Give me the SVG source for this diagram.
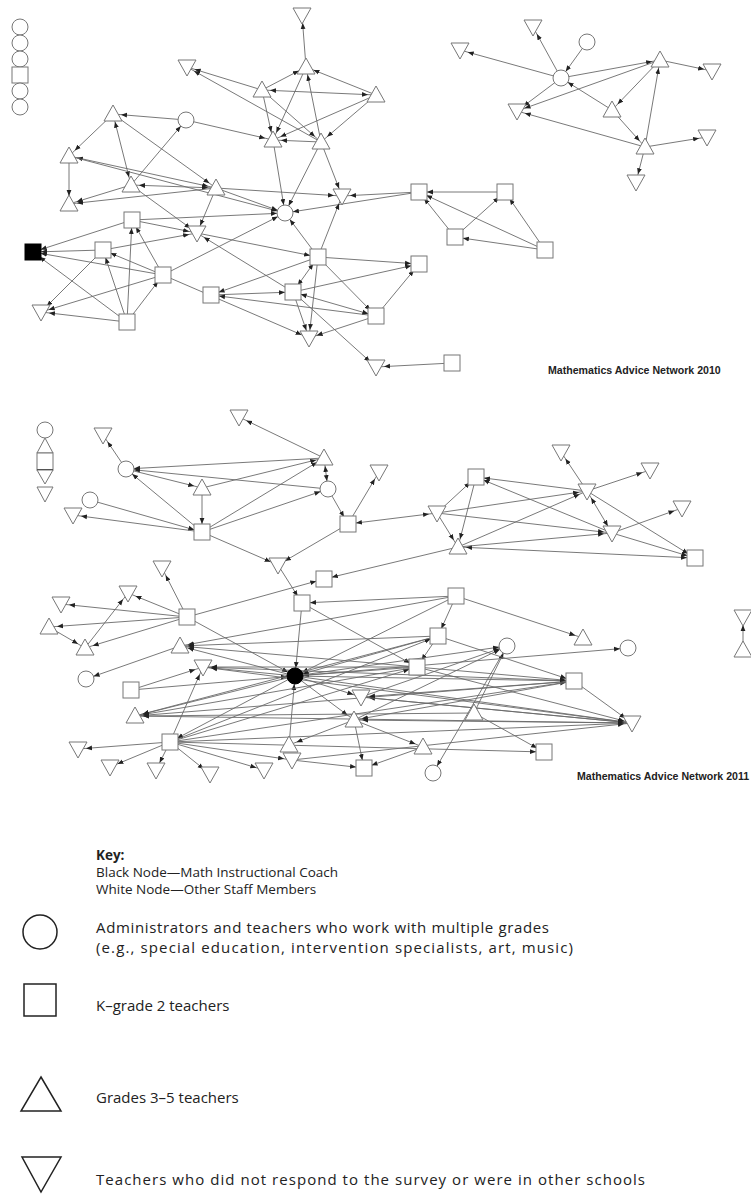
<svg xmlns="http://www.w3.org/2000/svg" width="751" height="1200" viewBox="0 0 751 1200">
<style>
.e{stroke:#6a6a6a;stroke-width:0.9;fill:none;marker-end:url(#a)}
.d{marker-start:url(#a)}
.n{fill:#fff;stroke:#777;stroke-width:1}
.b{fill:#000;stroke:#000;stroke-width:1}
.ttl{font-family:"Liberation Sans",Arial,sans-serif;font-weight:bold;font-size:10.6px;fill:#222}
.k{font-family:"Open Sans","Liberation Sans",sans-serif;font-size:13.5px;fill:#222}
.kd{font-family:"Open Sans","Liberation Sans",sans-serif;font-size:15px;fill:#222}
.kb{font-weight:bold}
.ks{fill:#fff;stroke:#222;stroke-width:1.5}
</style>
<defs>
<marker id="a" viewBox="0 0 20 6" refX="14" refY="3" markerWidth="20" markerHeight="6" markerUnits="userSpaceOnUse" orient="auto-start-reverse"><path d="M0,0.6 L6,3 L0,5.4z" fill="#222"/></marker>
<circle id="ci" r="8"/>
<rect id="sq" x="-8" y="-8" width="16" height="16"/>
<polygon id="ut" points="0,-9 9,7 -9,7"/>
<polygon id="dt" points="-9,-7 9,-7 0,9"/>
</defs>
<rect width="751" height="1200" fill="#fff"/>
<g id="connectors">
<line class="e" x1="321" y1="142" x2="187" y2="67"/>
<line class="e" x1="262" y1="90" x2="187" y2="67"/>
<line class="e" x1="186" y1="120" x2="113" y2="114"/>
<line class="e" x1="131" y1="185" x2="186" y2="120"/>
<line class="e" x1="186" y1="120" x2="273" y2="140"/>
<line class="e" x1="113" y1="114" x2="69" y2="156"/>
<line class="e d" x1="113" y1="114" x2="131" y2="185"/>
<line class="e" x1="113" y1="114" x2="216" y2="188"/>
<line class="e" x1="69" y1="156" x2="69" y2="204"/>
<line class="e d" x1="216" y1="188" x2="69" y2="156"/>
<line class="e" x1="69" y1="156" x2="285" y2="213"/>
<line class="e d" x1="131" y1="185" x2="216" y2="188"/>
<line class="e" x1="216" y1="188" x2="69" y2="204"/>
<line class="e" x1="131" y1="185" x2="69" y2="204"/>
<line class="e" x1="131" y1="185" x2="197" y2="233"/>
<line class="e" x1="216" y1="188" x2="197" y2="233"/>
<line class="e" x1="216" y1="188" x2="342" y2="196"/>
<line class="e" x1="216" y1="188" x2="285" y2="213"/>
<line class="e" x1="306" y1="67" x2="302" y2="15"/>
<line class="e" x1="262" y1="90" x2="306" y2="67"/>
<line class="e" x1="376" y1="95" x2="306" y2="67"/>
<line class="e d" x1="262" y1="90" x2="376" y2="95"/>
<line class="e" x1="306" y1="67" x2="273" y2="140"/>
<line class="e" x1="321" y1="142" x2="306" y2="67"/>
<line class="e" x1="262" y1="90" x2="273" y2="140"/>
<line class="e" x1="262" y1="90" x2="321" y2="142"/>
<line class="e" x1="376" y1="95" x2="273" y2="140"/>
<line class="e" x1="376" y1="95" x2="321" y2="142"/>
<line class="e" x1="321" y1="142" x2="273" y2="140"/>
<line class="e" x1="273" y1="140" x2="285" y2="213"/>
<line class="e" x1="321" y1="142" x2="285" y2="213"/>
<line class="e" x1="321" y1="142" x2="342" y2="196"/>
<line class="e" x1="419" y1="192" x2="342" y2="196"/>
<line class="e" x1="419" y1="192" x2="285" y2="213"/>
<line class="e" x1="318" y1="257" x2="342" y2="196"/>
<line class="e" x1="318" y1="257" x2="285" y2="213"/>
<line class="e" x1="132" y1="220" x2="33" y2="252"/>
<line class="e" x1="132" y1="220" x2="197" y2="233"/>
<line class="e" x1="132" y1="220" x2="285" y2="213"/>
<line class="e" x1="103" y1="250" x2="33" y2="252"/>
<line class="e" x1="103" y1="250" x2="197" y2="233"/>
<line class="e" x1="103" y1="250" x2="41" y2="312"/>
<line class="e" x1="163" y1="275" x2="33" y2="252"/>
<line class="e" x1="163" y1="275" x2="103" y2="250"/>
<line class="e" x1="163" y1="275" x2="132" y2="220"/>
<line class="e" x1="163" y1="275" x2="41" y2="312"/>
<line class="e" x1="163" y1="275" x2="285" y2="213"/>
<line class="e" x1="127" y1="322" x2="41" y2="312"/>
<line class="e" x1="127" y1="322" x2="103" y2="250"/>
<line class="e" x1="127" y1="322" x2="132" y2="220"/>
<line class="e" x1="127" y1="322" x2="163" y2="275"/>
<line class="e" x1="127" y1="322" x2="33" y2="252"/>
<line class="e" x1="197" y1="233" x2="318" y2="257"/>
<line class="e" x1="293" y1="292" x2="197" y2="233"/>
<line class="e" x1="318" y1="257" x2="211" y2="295"/>
<line class="e" x1="211" y1="295" x2="293" y2="292"/>
<line class="e" x1="376" y1="316" x2="211" y2="295"/>
<line class="e" x1="163" y1="275" x2="309" y2="338"/>
<line class="e" x1="318" y1="257" x2="419" y2="264"/>
<line class="e" x1="293" y1="292" x2="419" y2="264"/>
<line class="e d" x1="376" y1="316" x2="293" y2="292"/>
<line class="e" x1="376" y1="316" x2="419" y2="264"/>
<line class="e" x1="318" y1="257" x2="376" y2="316"/>
<line class="e" x1="318" y1="257" x2="309" y2="338"/>
<line class="e" x1="293" y1="292" x2="309" y2="338"/>
<line class="e" x1="376" y1="316" x2="309" y2="338"/>
<line class="e d" x1="318" y1="257" x2="293" y2="292"/>
<line class="e" x1="293" y1="292" x2="376" y2="367"/>
<line class="e" x1="452" y1="363" x2="376" y2="367"/>
<line class="e" x1="505" y1="192" x2="419" y2="192"/>
<line class="e" x1="455" y1="237" x2="419" y2="192"/>
<line class="e" x1="545" y1="250" x2="419" y2="192"/>
<line class="e" x1="455" y1="237" x2="505" y2="192"/>
<line class="e" x1="545" y1="250" x2="505" y2="192"/>
<line class="e" x1="545" y1="250" x2="455" y2="237"/>
<line class="e" x1="561" y1="78" x2="460" y2="50"/>
<line class="e" x1="561" y1="78" x2="533" y2="27"/>
<line class="e" x1="587" y1="42" x2="561" y2="78"/>
<line class="e" x1="561" y1="78" x2="660" y2="60"/>
<line class="e" x1="561" y1="78" x2="517" y2="111"/>
<line class="e" x1="660" y1="60" x2="517" y2="111"/>
<line class="e" x1="612" y1="110" x2="561" y2="78"/>
<line class="e" x1="660" y1="60" x2="612" y2="110"/>
<line class="e" x1="612" y1="110" x2="645" y2="147"/>
<line class="e" x1="645" y1="147" x2="660" y2="60"/>
<line class="e" x1="660" y1="60" x2="712" y2="71"/>
<line class="e" x1="645" y1="147" x2="517" y2="111"/>
<line class="e" x1="645" y1="147" x2="707" y2="137"/>
<line class="e" x1="645" y1="147" x2="636" y2="182"/>
<line class="e" x1="126" y1="469" x2="103" y2="435"/>
<line class="e" x1="202" y1="532" x2="126" y2="469"/>
<line class="e" x1="324" y1="458" x2="126" y2="469"/>
<line class="e" x1="328" y1="489" x2="126" y2="469"/>
<line class="e" x1="126" y1="469" x2="202" y2="488"/>
<line class="e" x1="90" y1="500" x2="202" y2="532"/>
<line class="e" x1="202" y1="532" x2="73" y2="515"/>
<line class="e" x1="202" y1="488" x2="202" y2="532"/>
<line class="e" x1="202" y1="532" x2="324" y2="458"/>
<line class="e" x1="202" y1="532" x2="328" y2="489"/>
<line class="e" x1="202" y1="488" x2="324" y2="458"/>
<line class="e" x1="202" y1="532" x2="278" y2="565"/>
<line class="e" x1="324" y1="458" x2="239" y2="417"/>
<line class="e d" x1="324" y1="458" x2="328" y2="489"/>
<line class="e" x1="328" y1="489" x2="348" y2="524"/>
<line class="e" x1="348" y1="524" x2="379" y2="472"/>
<line class="e" x1="348" y1="524" x2="278" y2="565"/>
<line class="e d" x1="348" y1="524" x2="437" y2="513"/>
<line class="e" x1="278" y1="565" x2="302" y2="603"/>
<line class="e" x1="458" y1="547" x2="324" y2="579"/>
<line class="e" x1="187" y1="617" x2="324" y2="579"/>
<line class="e" x1="437" y1="513" x2="476" y2="477"/>
<line class="e" x1="476" y1="477" x2="458" y2="547"/>
<line class="e" x1="437" y1="513" x2="458" y2="547"/>
<line class="e" x1="587" y1="491" x2="476" y2="477"/>
<line class="e" x1="612" y1="533" x2="476" y2="477"/>
<line class="e" x1="587" y1="491" x2="561" y2="452"/>
<line class="e" x1="587" y1="491" x2="650" y2="470"/>
<line class="e d" x1="587" y1="491" x2="612" y2="533"/>
<line class="e" x1="612" y1="533" x2="682" y2="508"/>
<line class="e" x1="587" y1="491" x2="695" y2="558"/>
<line class="e" x1="612" y1="533" x2="695" y2="558"/>
<line class="e d" x1="458" y1="547" x2="695" y2="558"/>
<line class="e" x1="437" y1="513" x2="587" y2="491"/>
<line class="e" x1="458" y1="547" x2="587" y2="491"/>
<line class="e" x1="437" y1="513" x2="612" y2="533"/>
<line class="e" x1="458" y1="547" x2="612" y2="533"/>
<line class="e" x1="187" y1="617" x2="128" y2="593"/>
<line class="e" x1="187" y1="617" x2="61" y2="604"/>
<line class="e" x1="187" y1="617" x2="49" y2="627"/>
<line class="e" x1="187" y1="617" x2="85" y2="648"/>
<line class="e" x1="85" y1="648" x2="128" y2="593"/>
<line class="e" x1="49" y1="627" x2="85" y2="648"/>
<line class="e" x1="187" y1="617" x2="162" y2="568"/>
<line class="e" x1="187" y1="617" x2="295" y2="676"/>
<line class="e" x1="180" y1="646" x2="86" y2="679"/>
<line class="e" x1="131" y1="690" x2="203" y2="667"/>
<line class="e" x1="170" y1="742" x2="203" y2="667"/>
<line class="e" x1="170" y1="742" x2="78" y2="749"/>
<line class="e" x1="170" y1="742" x2="110" y2="767"/>
<line class="e" x1="170" y1="742" x2="156" y2="770"/>
<line class="e" x1="170" y1="742" x2="210" y2="774"/>
<line class="e" x1="170" y1="742" x2="264" y2="770"/>
<line class="e" x1="456" y1="596" x2="302" y2="603"/>
<line class="e" x1="302" y1="603" x2="295" y2="676"/>
<line class="e" x1="302" y1="603" x2="417" y2="667"/>
<line class="e" x1="456" y1="596" x2="438" y2="636"/>
<line class="e" x1="456" y1="596" x2="295" y2="676"/>
<line class="e" x1="456" y1="596" x2="583" y2="638"/>
<line class="e" x1="438" y1="636" x2="417" y2="667"/>
<line class="e" x1="438" y1="636" x2="295" y2="676"/>
<line class="e" x1="438" y1="636" x2="180" y2="646"/>
<line class="e" x1="417" y1="667" x2="295" y2="676"/>
<line class="e" x1="354" y1="720" x2="364" y2="768"/>
<line class="e" x1="354" y1="720" x2="423" y2="747"/>
<line class="e" x1="423" y1="747" x2="364" y2="768"/>
<line class="e" x1="289" y1="745" x2="295" y2="676"/>
<line class="e" x1="292" y1="760" x2="364" y2="768"/>
<line class="e" x1="507" y1="646" x2="433" y2="773"/>
<line class="e" x1="474" y1="713" x2="507" y2="646"/>
<line class="e" x1="295" y1="676" x2="628" y2="648"/>
<line class="e" x1="574" y1="681" x2="632" y2="723"/>
<line class="e" x1="474" y1="713" x2="544" y2="752"/>
<line class="e" x1="295" y1="676" x2="180" y2="646"/>
<line class="e" x1="295" y1="676" x2="203" y2="667"/>
<line class="e" x1="295" y1="676" x2="135" y2="716"/>
<line class="e" x1="295" y1="676" x2="170" y2="742"/>
<line class="e" x1="295" y1="676" x2="361" y2="697"/>
<line class="e" x1="295" y1="676" x2="354" y2="720"/>
<line class="e" x1="295" y1="676" x2="507" y2="646"/>
<line class="e" x1="295" y1="676" x2="574" y2="681"/>
<line class="e" x1="295" y1="676" x2="632" y2="723"/>
<line class="e" x1="131" y1="690" x2="295" y2="676"/>
<line class="e" x1="170" y1="742" x2="438" y2="636"/>
<line class="e" x1="170" y1="742" x2="417" y2="667"/>
<line class="e" x1="170" y1="742" x2="574" y2="681"/>
<line class="e" x1="170" y1="742" x2="632" y2="723"/>
<line class="e" x1="170" y1="742" x2="544" y2="752"/>
<line class="e" x1="170" y1="742" x2="292" y2="760"/>
<line class="e" x1="438" y1="636" x2="135" y2="716"/>
<line class="e" x1="417" y1="667" x2="135" y2="716"/>
<line class="e" x1="574" y1="681" x2="135" y2="716"/>
<line class="e" x1="474" y1="713" x2="135" y2="716"/>
<line class="e" x1="632" y1="723" x2="135" y2="716"/>
<line class="e" x1="417" y1="667" x2="180" y2="646"/>
<line class="e" x1="456" y1="596" x2="180" y2="646"/>
<line class="e" x1="417" y1="667" x2="203" y2="667"/>
<line class="e" x1="574" y1="681" x2="203" y2="667"/>
<line class="e" x1="632" y1="723" x2="203" y2="667"/>
<line class="e" x1="574" y1="681" x2="361" y2="697"/>
<line class="e" x1="632" y1="723" x2="361" y2="697"/>
<line class="e" x1="632" y1="723" x2="354" y2="720"/>
<line class="e" x1="574" y1="681" x2="354" y2="720"/>
<line class="e" x1="354" y1="720" x2="289" y2="745"/>
<line class="e" x1="417" y1="667" x2="574" y2="681"/>
<line class="e" x1="438" y1="636" x2="574" y2="681"/>
<line class="e" x1="417" y1="667" x2="632" y2="723"/>
<line class="e" x1="361" y1="697" x2="632" y2="723"/>
<line class="e" x1="292" y1="760" x2="632" y2="723"/>
<line class="e" x1="361" y1="697" x2="507" y2="646"/>
<line class="e" x1="354" y1="720" x2="507" y2="646"/>
<line class="e" x1="743" y1="650" x2="743" y2="617"/>
</g>
<g id="isolates-2010">
<use href="#ci" class="n" x="20" y="27"/>
<use href="#ci" class="n" x="20" y="43"/>
<use href="#ci" class="n" x="20" y="59"/>
<use href="#sq" class="n" x="20" y="75"/>
<use href="#ci" class="n" x="20" y="91"/>
<use href="#ci" class="n" x="20" y="107"/>
</g>
<g id="nodes-2010">
<g id="t1"><use href="#dt" class="n" x="187" y="67"/></g>
<g id="t2"><use href="#ci" class="n" x="186" y="120"/></g>
<g id="t3"><use href="#ut" class="n" x="113" y="114"/></g>
<g id="t4"><use href="#ut" class="n" x="69" y="156"/></g>
<g id="t5"><use href="#ut" class="n" x="131" y="185"/></g>
<g id="t6"><use href="#ut" class="n" x="216" y="188"/></g>
<g id="t7"><use href="#ut" class="n" x="69" y="204"/></g>
<g id="t8"><use href="#dt" class="n" x="302" y="15"/></g>
<g id="t9"><use href="#ut" class="n" x="306" y="67"/></g>
<g id="t10"><use href="#ut" class="n" x="262" y="90"/></g>
<g id="t11"><use href="#ut" class="n" x="376" y="95"/></g>
<g id="t12"><use href="#ut" class="n" x="273" y="140"/></g>
<g id="t13"><use href="#ut" class="n" x="321" y="142"/></g>
<g id="t14"><use href="#dt" class="n" x="460" y="50"/></g>
<g id="t15"><use href="#dt" class="n" x="342" y="196"/></g>
<g id="t16"><use href="#sq" class="n" x="419" y="192"/></g>
<g id="t17"><use href="#ci" class="n" x="285" y="213"/></g>
<g id="t18"><use href="#sq" class="n" x="318" y="257"/></g>
<g id="t19"><use href="#sq" class="n" x="132" y="220"/></g>
<g id="t20"><use href="#dt" class="n" x="197" y="233"/></g>
<g id="t21"><use href="#sq" class="b" x="33" y="252"/></g>
<g id="t22"><use href="#sq" class="n" x="103" y="250"/></g>
<g id="t23"><use href="#sq" class="n" x="163" y="275"/></g>
<g id="t24"><use href="#dt" class="n" x="41" y="312"/></g>
<g id="t25"><use href="#sq" class="n" x="127" y="322"/></g>
<g id="t26"><use href="#sq" class="n" x="211" y="295"/></g>
<g id="t27"><use href="#sq" class="n" x="293" y="292"/></g>
<g id="t28"><use href="#sq" class="n" x="419" y="264"/></g>
<g id="t29"><use href="#sq" class="n" x="376" y="316"/></g>
<g id="t30"><use href="#dt" class="n" x="309" y="338"/></g>
<g id="t31"><use href="#sq" class="n" x="452" y="363"/></g>
<g id="t32"><use href="#dt" class="n" x="376" y="367"/></g>
<g id="t33"><use href="#sq" class="n" x="455" y="237"/></g>
<g id="t34"><use href="#sq" class="n" x="505" y="192"/></g>
<g id="t35"><use href="#sq" class="n" x="545" y="250"/></g>
<g id="r1"><use href="#dt" class="n" x="533" y="27"/></g>
<g id="r2"><use href="#ci" class="n" x="587" y="42"/></g>
<g id="r4"><use href="#ci" class="n" x="561" y="78"/></g>
<g id="r5"><use href="#ut" class="n" x="660" y="60"/></g>
<g id="r6"><use href="#dt" class="n" x="712" y="71"/></g>
<g id="r7"><use href="#dt" class="n" x="517" y="111"/></g>
<g id="r8"><use href="#ut" class="n" x="612" y="110"/></g>
<g id="r9"><use href="#ut" class="n" x="645" y="147"/></g>
<g id="r10"><use href="#dt" class="n" x="707" y="137"/></g>
<g id="r11"><use href="#dt" class="n" x="636" y="182"/></g>
</g>
<text class="ttl" x="548" y="374">Mathematics Advice Network 2010</text>
<g id="isolates-2011">
<use href="#ci" class="n" x="45" y="430"/>
<polygon class="n" points="45,438 53,453 37,453"/>
<rect class="n" x="37" y="453" width="16" height="17"/>
<line x1="37" y1="470" x2="53" y2="470" stroke="#333" stroke-width="2"/>
<polygon class="n" points="37,470 53,470 45,484"/>
<polygon class="n" points="37,487 53,487 45,502"/>
</g>
<g id="nodes-2011">
<g id="b1"><use href="#dt" class="n" x="103" y="435"/></g>
<g id="b2"><use href="#ci" class="n" x="126" y="469"/></g>
<g id="b3"><use href="#dt" class="n" x="239" y="417"/></g>
<g id="b4"><use href="#ut" class="n" x="324" y="458"/></g>
<g id="b5"><use href="#ci" class="n" x="328" y="489"/></g>
<g id="b6"><use href="#ut" class="n" x="202" y="488"/></g>
<g id="b7"><use href="#ci" class="n" x="90" y="500"/></g>
<g id="b8"><use href="#dt" class="n" x="73" y="515"/></g>
<g id="b9"><use href="#sq" class="n" x="202" y="532"/></g>
<g id="b10"><use href="#dt" class="n" x="379" y="472"/></g>
<g id="b11"><use href="#sq" class="n" x="348" y="524"/></g>
<g id="b12"><use href="#dt" class="n" x="278" y="565"/></g>
<g id="b13"><use href="#sq" class="n" x="324" y="579"/></g>
<g id="b14"><use href="#sq" class="n" x="476" y="477"/></g>
<g id="b15"><use href="#dt" class="n" x="437" y="513"/></g>
<g id="b16"><use href="#ut" class="n" x="458" y="547"/></g>
<g id="b17"><use href="#dt" class="n" x="561" y="452"/></g>
<g id="b18"><use href="#dt" class="n" x="650" y="470"/></g>
<g id="b19"><use href="#dt" class="n" x="587" y="491"/></g>
<g id="b20"><use href="#dt" class="n" x="682" y="508"/></g>
<g id="b21"><use href="#dt" class="n" x="612" y="533"/></g>
<g id="b22"><use href="#sq" class="n" x="695" y="558"/></g>
<g id="b23"><use href="#dt" class="n" x="162" y="568"/></g>
<g id="b24"><use href="#dt" class="n" x="128" y="593"/></g>
<g id="b25"><use href="#dt" class="n" x="61" y="604"/></g>
<g id="b26"><use href="#sq" class="n" x="187" y="617"/></g>
<g id="b27"><use href="#ut" class="n" x="49" y="627"/></g>
<g id="b28"><use href="#ut" class="n" x="85" y="648"/></g>
<g id="b29"><use href="#sq" class="n" x="302" y="603"/></g>
<g id="b30"><use href="#sq" class="n" x="456" y="596"/></g>
<g id="b31"><use href="#ut" class="n" x="583" y="638"/></g>
<g id="b32"><use href="#ut" class="n" x="180" y="646"/></g>
<g id="b33"><use href="#dt" class="n" x="203" y="667"/></g>
<g id="b34"><use href="#ci" class="n" x="86" y="679"/></g>
<g id="b35"><use href="#sq" class="n" x="131" y="690"/></g>
<g id="b36"><use href="#sq" class="n" x="438" y="636"/></g>
<g id="b37"><use href="#ci" class="n" x="507" y="646"/></g>
<g id="b38"><use href="#ci" class="n" x="628" y="648"/></g>
<g id="b39"><use href="#ci" class="b" x="295" y="676"/></g>
<g id="b40"><use href="#sq" class="n" x="417" y="667"/></g>
<g id="b41"><use href="#ut" class="n" x="135" y="716"/></g>
<g id="b42"><use href="#dt" class="n" x="361" y="697"/></g>
<g id="b43"><use href="#sq" class="n" x="574" y="681"/></g>
<g id="b44"><use href="#ut" class="n" x="354" y="720"/></g>
<g id="b45"><use href="#ut" class="n" x="474" y="713"/></g>
<g id="b46"><use href="#dt" class="n" x="632" y="723"/></g>
<g id="b47"><use href="#sq" class="n" x="170" y="742"/></g>
<g id="b48"><use href="#dt" class="n" x="78" y="749"/></g>
<g id="b49"><use href="#ut" class="n" x="289" y="745"/></g>
<g id="b50"><use href="#dt" class="n" x="292" y="760"/></g>
<g id="b51"><use href="#ut" class="n" x="423" y="747"/></g>
<g id="b52"><use href="#sq" class="n" x="544" y="752"/></g>
<g id="b53"><use href="#dt" class="n" x="110" y="767"/></g>
<g id="b54"><use href="#dt" class="n" x="156" y="770"/></g>
<g id="b55"><use href="#dt" class="n" x="210" y="774"/></g>
<g id="b56"><use href="#dt" class="n" x="264" y="770"/></g>
<g id="b57"><use href="#sq" class="n" x="364" y="768"/></g>
<g id="b58"><use href="#ci" class="n" x="433" y="773"/></g>
<g id="i1"><use href="#dt" class="n" x="743" y="617"/></g>
<g id="i2"><use href="#ut" class="n" x="743" y="650"/></g>
</g>
<text class="ttl" x="577" y="780">Mathematics Advice Network 2011</text>
<g id="key">
<text class="k kb" x="96" y="860">Key:</text>
<text class="k" x="96" y="877">Black Node—Math Instructional Coach</text>
<text class="k" x="96" y="894">White Node—Other Staff Members</text>
<circle class="ks" cx="40" cy="932" r="17"/>
<text class="kd" x="96" y="933" textLength="453" lengthAdjust="spacing">Administrators and teachers who work with multiple grades</text>
<text class="kd" x="96" y="953" textLength="477" lengthAdjust="spacing">(e.g., special education, intervention specialists, art, music)</text>
<rect class="ks" x="24" y="984" width="32" height="32"/>
<text class="kd" x="96" y="1011">K–grade 2 teachers</text>
<polygon class="ks" points="41,1077 61,1111 21,1111"/>
<text class="kd" x="96" y="1103">Grades 3–5 teachers</text>
<polygon class="ks" points="22,1157 61,1157 41,1192"/>
<text class="kd" x="96" y="1185" textLength="549" lengthAdjust="spacing">Teachers who did not respond to the survey or were in other schools</text>
</g>
</svg>
